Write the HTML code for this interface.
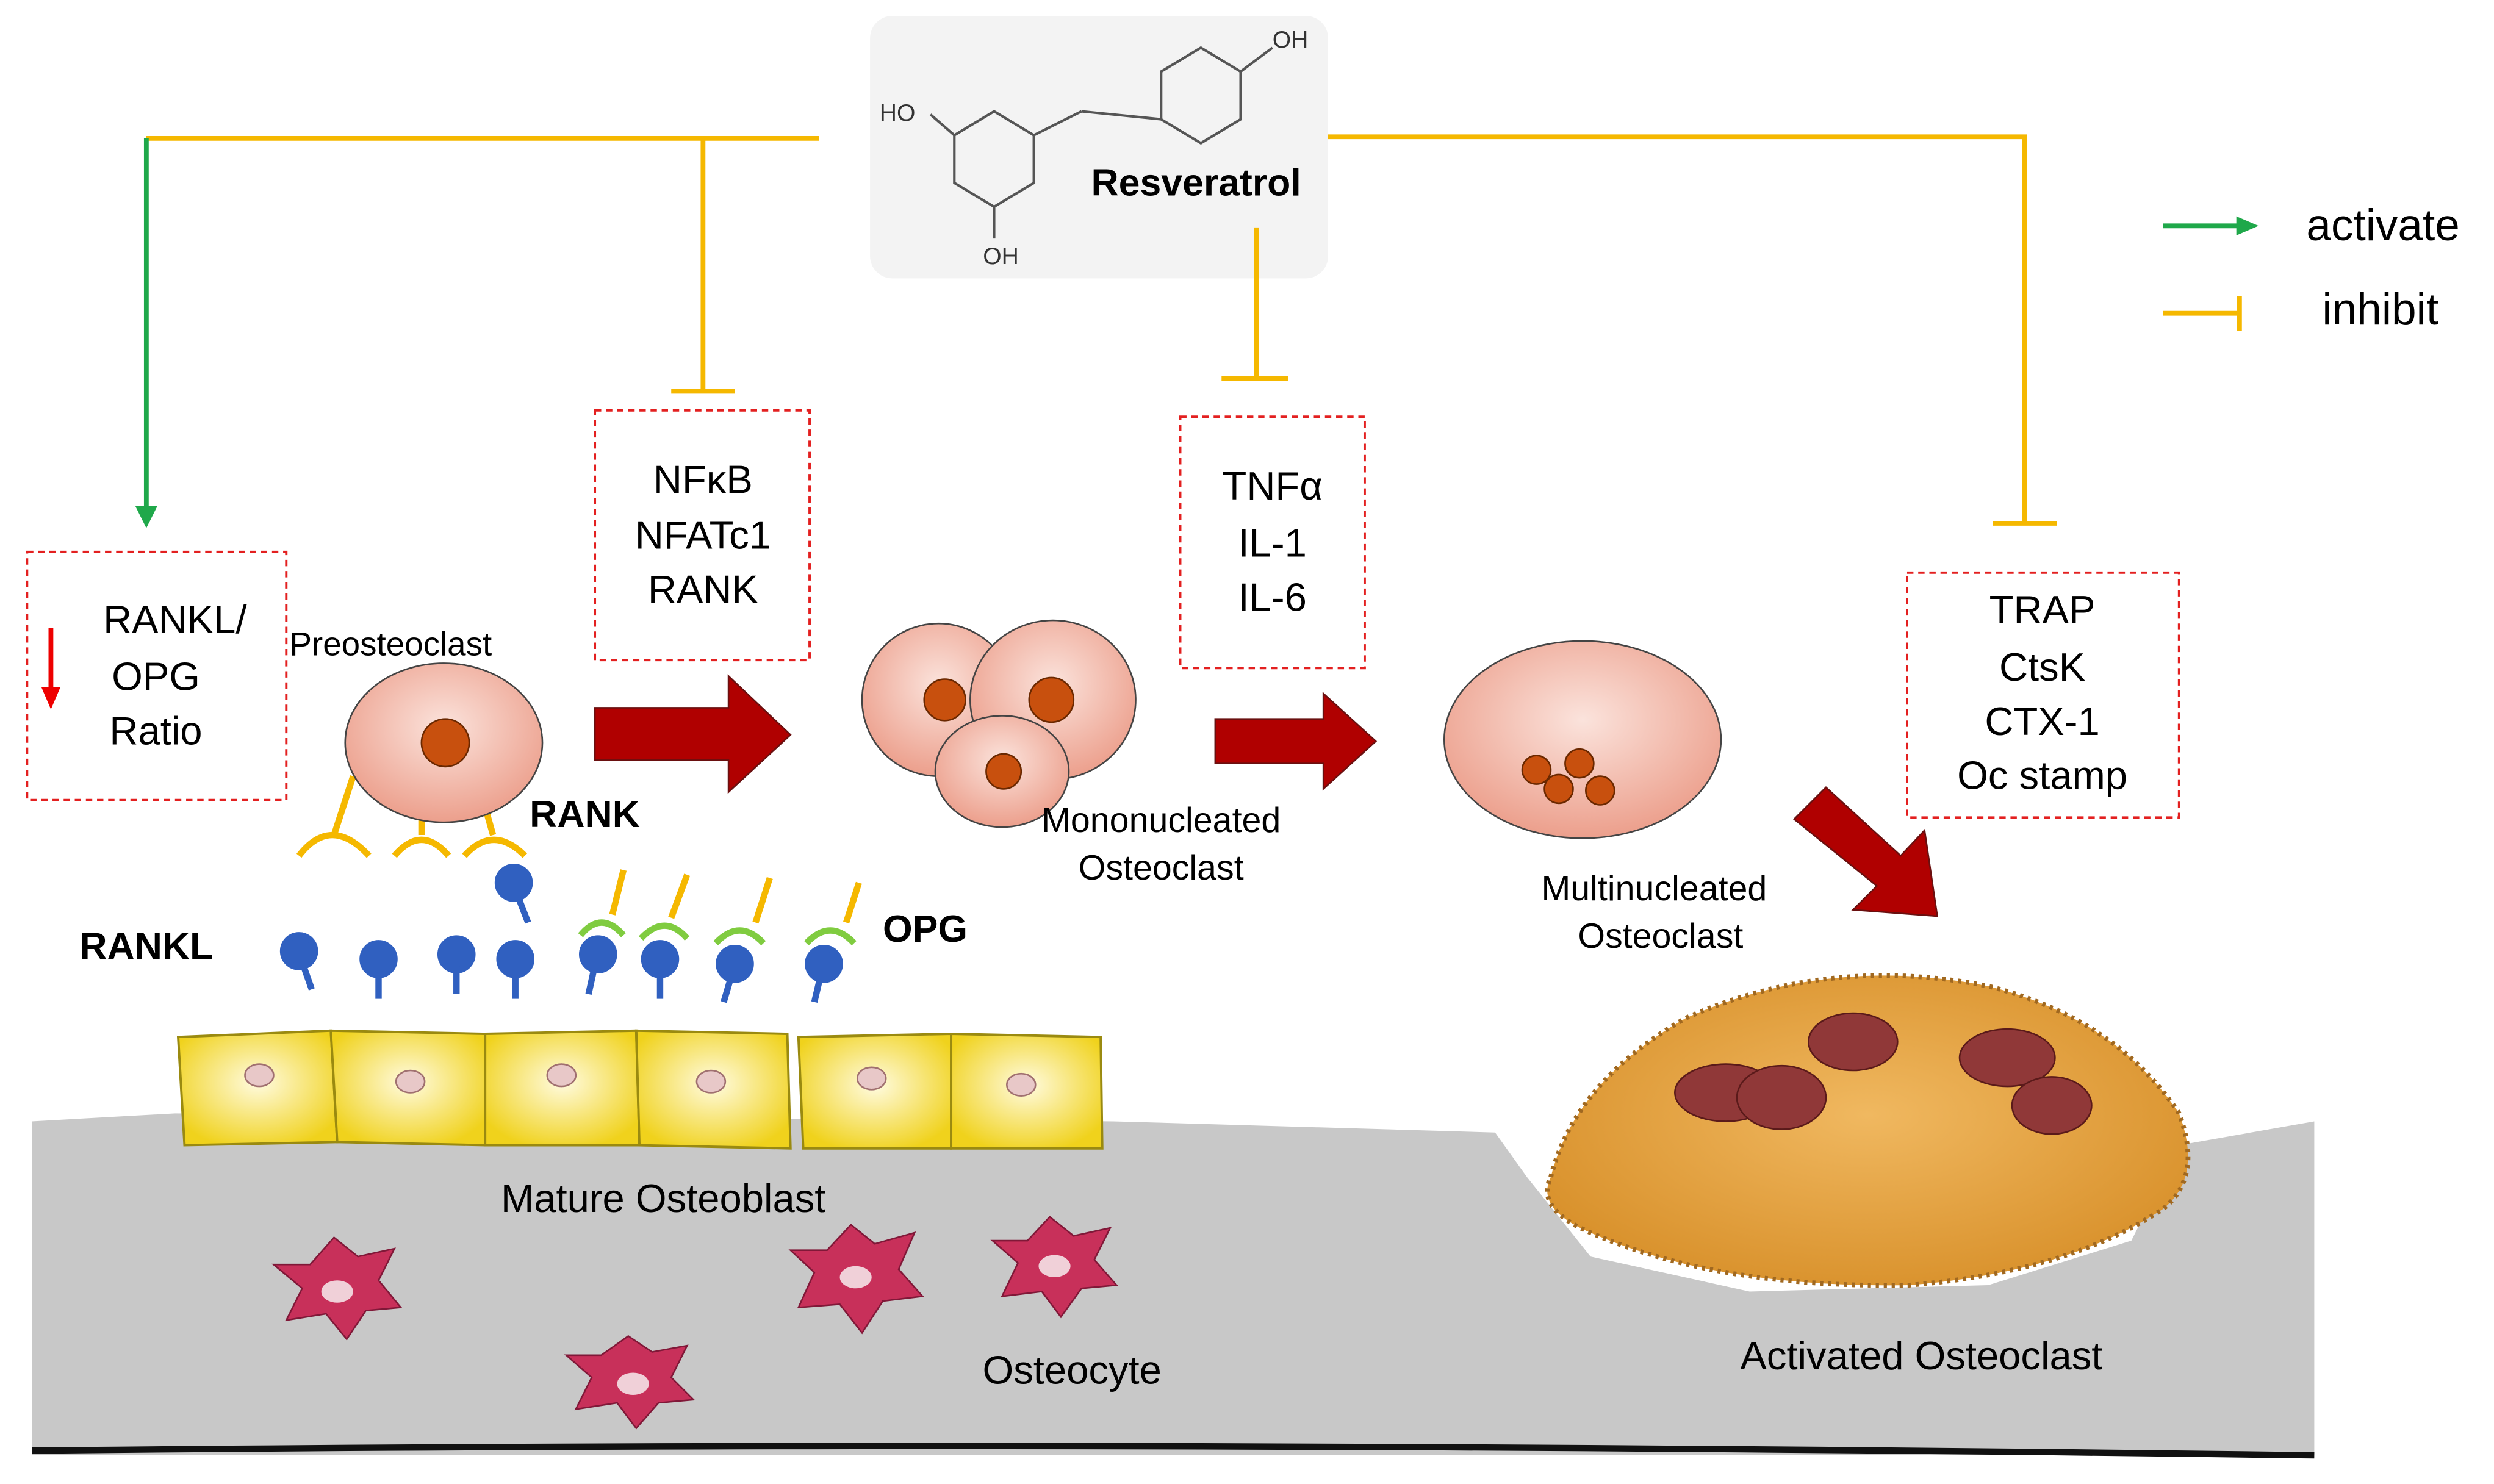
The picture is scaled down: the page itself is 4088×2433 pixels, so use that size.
<!DOCTYPE html>
<html><head><meta charset="utf-8"><style>
html,body{margin:0;padding:0;background:#fff;width:4088px;height:2433px;overflow:hidden}
svg{display:block}
text{font-family:"Liberation Sans",sans-serif}
</style></head><body>
<svg width="4088" height="2433" viewBox="0 0 1568 933" preserveAspectRatio="none" xmlns="http://www.w3.org/2000/svg">
<defs>
<radialGradient id="cell" cx="50%" cy="40%" r="60%"><stop offset="0" stop-color="#fbe3dc"/><stop offset="1" stop-color="#ec9f8c"/></radialGradient>
<radialGradient id="ob" cx="50%" cy="45%" r="60%"><stop offset="0" stop-color="#fffbe0"/><stop offset="1" stop-color="#f0d21c"/></radialGradient>
<radialGradient id="oc" cx="50%" cy="45%" r="60%"><stop offset="0" stop-color="#f0b860"/><stop offset="1" stop-color="#d8902a"/></radialGradient>
</defs>
<!-- bone -->
<path d="M20,705 L110,700 L700,705 L940,712 L960,740 L1000,790 L1100,812 L1250,808 L1340,780 L1370,720 L1455,705 L1455,915 L20,915 Z" fill="#c8c8c8"/>
<path d="M20,912 Q700,905 1455,915" stroke="#111" stroke-width="4" fill="none"/>
<!-- Resveratrol box -->
<rect x="547" y="10" width="288" height="165" rx="14" fill="#f3f3f3"/>
<g stroke="#555" stroke-width="1.6" fill="none">
<polygon points="600,85 625,70 650,85 650,115 625,130 600,115"/>
<polygon points="730,45 755,30 780,45 780,75 755,90 730,75"/>
<line x1="650" y1="85" x2="680" y2="70"/><line x1="680" y1="70" x2="730" y2="75"/>
<line x1="600" y1="85" x2="585" y2="72"/><line x1="625" y1="130" x2="625" y2="150"/><line x1="780" y1="45" x2="800" y2="30"/>
</g>
<text x="553" y="76" font-size="15" fill="#333">HO</text>
<text x="618" y="166" font-size="15" fill="#333">OH</text>
<text x="800" y="30" font-size="15" fill="#333">OH</text>
<text x="686" y="123" font-size="24" font-weight="bold" fill="#000">Resveratrol</text>
<!-- connectors -->
<g stroke="#f5b800" stroke-width="3" fill="none">
<polyline points="515,87 92,87"/>
<line x1="442" y1="87" x2="442" y2="245"/><line x1="422" y1="246" x2="462" y2="246"/>
<line x1="790" y1="143" x2="790" y2="237"/><line x1="768" y1="238" x2="810" y2="238"/>
<polyline points="835,86 1273,86 1273,328"/><line x1="1253" y1="329" x2="1293" y2="329"/>
<line x1="1360" y1="197" x2="1408" y2="197"/><line x1="1408" y1="186" x2="1408" y2="208"/>
</g>
<g stroke="#1fa84a" stroke-width="3"><line x1="92" y1="87" x2="92" y2="320"/><line x1="1360" y1="142" x2="1408" y2="142"/></g>
<polygon points="85,318 99,318 92,332" fill="#1fa84a"/>
<polygon points="1406,136 1420,142 1406,148" fill="#1fa84a"/>
<text x="1450" y="151" font-size="28">activate</text>
<text x="1460" y="204" font-size="28">inhibit</text>
<!-- dashed boxes -->
<g fill="none" stroke="#e32020" stroke-width="1.5" stroke-dasharray="4,3">
<rect x="17" y="347" width="163" height="156"/><rect x="374" y="258" width="135" height="157"/>
<rect x="742" y="262" width="116" height="158"/><rect x="1199" y="360" width="171" height="154"/>
</g>
<g font-size="25" text-anchor="middle">
<text x="110" y="398">RANKL/</text><text x="98" y="434">OPG</text><text x="98" y="468">Ratio</text>
<text x="442" y="310">NFκB</text><text x="442" y="345">NFATc1</text><text x="442" y="379">RANK</text>
<text x="800" y="314">TNFα</text><text x="800" y="350">IL-1</text><text x="800" y="384">IL-6</text>
<text x="1284" y="392">TRAP</text><text x="1284" y="428">CtsK</text><text x="1284" y="462">CTX-1</text><text x="1284" y="496">Oc stamp</text>
</g>
<line x1="32" y1="395" x2="32" y2="435" stroke="#e00" stroke-width="3"/><polygon points="26,432 38,432 32,446" fill="#e00"/>
<!-- red arrows -->
<g fill="#b00000" stroke="#6a1010" stroke-width="1">
<polygon points="374,445 458,445 458,425 497,462 458,498 458,478 374,478"/>
<polygon points="764,452 832,452 832,436 865,466 832,496 832,480 764,480"/>
<polygon points="1128,515 1148,495 1195,538 1210,522 1218,576 1165,572 1180,557"/>
</g>
<!-- osteoblasts -->
<g stroke="#9a8a10" stroke-width="1.5" fill="url(#ob)">
<path d="M112,652 L208,648 L212,718 L116,720 Z"/><path d="M208,648 L305,650 L305,720 L212,718 Z"/>
<path d="M305,650 L400,648 L402,720 L305,720 Z"/><path d="M400,648 L495,650 L497,722 L402,720 Z"/>
<path d="M502,652 L598,650 L598,722 L505,722 Z"/><path d="M598,650 L692,652 L693,722 L598,722 Z"/>
</g>
<g fill="#e8c8c8" stroke="#a07070"><ellipse cx="163" cy="676" rx="9" ry="7"/><ellipse cx="258" cy="680" rx="9" ry="7"/><ellipse cx="353" cy="676" rx="9" ry="7"/><ellipse cx="447" cy="680" rx="9" ry="7"/><ellipse cx="548" cy="678" rx="9" ry="7"/><ellipse cx="642" cy="682" rx="9" ry="7"/></g>
<!-- preosteoclast -->
<g stroke="#f5b800" stroke-width="4" fill="none">
<path d="M188,538 Q208,512 232,538"/><path d="M248,538 Q265,518 282,538"/><path d="M292,538 Q310,518 330,538"/>
<line x1="222" y1="488" x2="210" y2="525"/><line x1="265" y1="495" x2="265" y2="525"/><line x1="300" y1="490" x2="310" y2="525"/>
</g>
<ellipse cx="279" cy="467" rx="62" ry="50" fill="url(#cell)" stroke="#444"/>
<circle cx="280" cy="467" r="15" fill="#c8500e" stroke="#6a2800"/>
<text x="182" y="412" font-size="21">Preosteoclast</text>
<text x="333" y="520" font-size="24" font-weight="bold">RANK</text>
<text x="50" y="603" font-size="24" font-weight="bold">RANKL</text>
<text x="555" y="592" font-size="24" font-weight="bold">OPG</text>
<!-- RANKL -->
<g fill="#3060c0" stroke="#3060c0" stroke-width="4">
<circle cx="188" cy="598" r="10"/><line x1="190" y1="605" x2="196" y2="622"/>
<circle cx="238" cy="603" r="10"/><line x1="238" y1="610" x2="238" y2="628"/>
<circle cx="287" cy="600" r="10"/><line x1="287" y1="607" x2="287" y2="625"/>
<circle cx="324" cy="603" r="10"/><line x1="324" y1="610" x2="324" y2="628"/>
<circle cx="323" cy="555" r="10"/><line x1="325" y1="562" x2="332" y2="580"/>
<circle cx="376" cy="600" r="10"/><line x1="374" y1="607" x2="370" y2="625"/>
<circle cx="415" cy="603" r="10"/><line x1="415" y1="610" x2="415" y2="628"/>
<circle cx="462" cy="606" r="10"/><line x1="460" y1="613" x2="455" y2="630"/>
<circle cx="518" cy="606" r="10"/><line x1="516" y1="613" x2="512" y2="630"/>
</g>
<g stroke="#80cc40" stroke-width="4" fill="none">
<path d="M365,588 Q378,572 392,588"/><path d="M403,590 Q418,574 432,590"/><path d="M450,593 Q465,577 480,593"/><path d="M507,593 Q522,577 537,593"/>
</g>
<g stroke="#f5b800" stroke-width="4"><line x1="385" y1="575" x2="392" y2="547"/><line x1="422" y1="577" x2="432" y2="550"/><line x1="475" y1="580" x2="484" y2="552"/><line x1="532" y1="580" x2="540" y2="555"/></g>
<!-- mononucleated -->
<g stroke="#444" fill="url(#cell)">
<ellipse cx="590" cy="440" rx="48" ry="48"/><ellipse cx="662" cy="440" rx="52" ry="50"/><ellipse cx="630" cy="485" rx="42" ry="35"/>
</g>
<g fill="#c8500e" stroke="#6a2800"><circle cx="594" cy="440" r="13"/><circle cx="661" cy="440" r="14"/><circle cx="631" cy="485" r="11"/></g>
<text x="730" y="523" font-size="22" text-anchor="middle">Mononucleated</text>
<text x="730" y="553" font-size="22" text-anchor="middle">Osteoclast</text>
<!-- multinucleated -->
<ellipse cx="995" cy="465" rx="87" ry="62" fill="url(#cell)" stroke="#444"/>
<g fill="#c8500e" stroke="#6a2800"><circle cx="966" cy="484" r="9"/><circle cx="993" cy="480" r="9"/><circle cx="980" cy="496" r="9"/><circle cx="1006" cy="497" r="9"/></g>
<text x="1040" y="566" font-size="22" text-anchor="middle">Multinucleated</text>
<text x="1044" y="596" font-size="22" text-anchor="middle">Osteoclast</text>
<!-- activated osteoclast -->
<path d="M975,740 Q990,680 1060,640 Q1150,600 1250,620 Q1330,640 1370,700 Q1385,740 1360,760 Q1300,800 1200,808 Q1080,810 1000,775 Q965,760 975,740 Z" fill="url(#oc)" stroke="#a06820" stroke-width="3" stroke-dasharray="2,3"/>
<g fill="#903838" stroke="#5a1a1a"><ellipse cx="1085" cy="687" rx="32" ry="18"/><ellipse cx="1120" cy="690" rx="28" ry="20"/><ellipse cx="1165" cy="655" rx="28" ry="18"/><ellipse cx="1262" cy="665" rx="30" ry="18"/><ellipse cx="1290" cy="695" rx="25" ry="18"/></g>
<text x="1208" y="861" font-size="25" text-anchor="middle">Activated Osteoclast</text>
<text x="417" y="762" font-size="25" text-anchor="middle">Mature Osteoblast</text>
<text x="674" y="870" font-size="25" text-anchor="middle">Osteocyte</text>
<!-- osteocytes -->
<g fill="#c8305a" stroke="#801838">
<polygon points="210,778 225,790 248,785 238,805 252,822 230,824 218,842 205,826 180,830 190,810 172,795 195,795"/>
<polygon points="395,840 410,850 432,846 422,866 436,880 414,882 400,898 388,882 362,886 372,866 356,852 378,852"/>
<polygon points="535,770 550,782 575,775 565,798 580,815 555,818 542,838 528,820 502,822 512,800 497,786 520,786"/>
<polygon points="660,765 675,777 698,772 688,792 702,808 680,810 667,828 655,812 630,815 640,794 624,780 646,780"/>
</g>
<g fill="#f0d0d8"><ellipse cx="212" cy="812" rx="10" ry="7"/><ellipse cx="398" cy="870" rx="10" ry="7"/><ellipse cx="538" cy="803" rx="10" ry="7"/><ellipse cx="663" cy="796" rx="10" ry="7"/></g>
</svg>
</body></html>
